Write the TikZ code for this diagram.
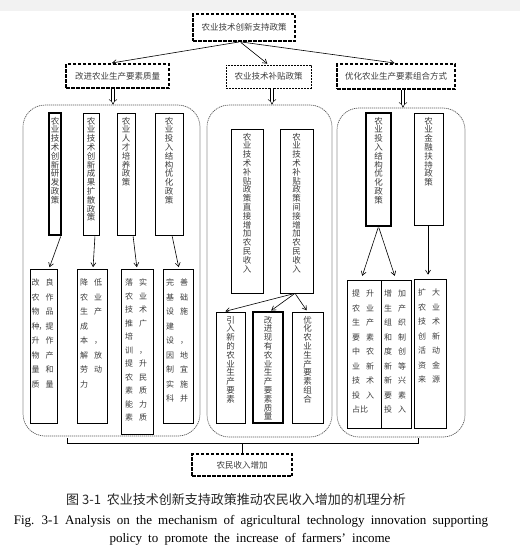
\documentclass[tikz,border=0pt]{standalone}
\usepackage{fontspec}
\setmainfont{Liberation Serif}
\newfontfamily\cjk{Noto Sans CJK SC}
\XeTeXlinebreaklocale "zh"
\XeTeXlinebreakskip=0pt plus 1pt
\usetikzlibrary{arrows.meta,positioning}
\definecolor{InkGray}{RGB}{60,60,60}
\definecolor{EdgeGray}{RGB}{90,90,90}
\newcommand\colstack[2]{\parbox[c][#1][t]{9pt}{\centering#2}}
\newcommand\rowstack[2]{\parbox[c][#1][t]{24pt}{\raggedright#2}}
\tikzset{
  policy/.style={draw,line width=1.6pt,dash pattern=on 3.5pt off 1.5pt,
    inner sep=0pt,text=InkGray,font=\cjk\fontsize{8.5}{10}\selectfont},
  subpolicy/.style={policy,line width=0.8pt,dash pattern=on 2pt off 1pt},
  group/.style={draw=EdgeGray,line width=0.7pt,dash pattern=on 1.2pt off 0.8pt,
    rounded corners=22pt,inner sep=0pt},
  colbox/.style={draw,line width=0.7pt,inner xsep=0pt,inner ysep=4pt,
    text=InkGray,font=\cjk\fontsize{8.5}{8.8}\selectfont},
  rowbox/.style={draw,line width=0.7pt,inner xsep=0pt,inner ysep=10pt,
    text=InkGray,font={\cjk\fontsize{8}{14.5}\selectfont\spaceskip=6pt\relax}},
  link/.style={-{Straight Barb[length=4pt,width=5pt]},line width=0.6pt,
    shorten >=1.5pt,shorten <=1pt},
  feed/.style={double,double distance=2.4pt,line width=0.5pt,-{Implies}},
  entitle/.style={font={\fontsize{13}{15}\selectfont\spaceskip=6.2pt\relax}}
}

\begin{document}
\begin{tikzpicture}[x=1pt,y=-1pt,>=Latex]
  \fill[black!5] (0,0) rectangle (520,11);
  \useasboundingbox (0,0) rectangle (520,554);

  % top levels
  \node[policy,minimum width=102pt,minimum height=27pt] (support) at (244,27.5) {农业技术创新支持政策};
  \node[policy,minimum width=103pt,minimum height=24pt] (quality) at (117.5,76) {改进农业生产要素质量};
  \node[subpolicy,minimum width=85pt,minimum height=23pt] (subsidy) at (268.5,76.5) {农业技术补贴政策};
  \node[policy,minimum width=118pt,minimum height=25pt] (combine) at (396,76.5) {优化农业生产要素组合方式};
  \draw[link] ([xshift=-4pt]support.south) -- ([xshift=-7pt]quality.north);
  \draw[link] ([xshift=-4pt]support.south) -- (subsidy.north);
  \draw[link] ([xshift=-4pt]support.south) -- (combine.north);

  % groups
  \node[group,minimum width=177pt,minimum height=331pt] (leftgrp) at (111.5,270.5) {};
  \node[group,minimum width=125pt,minimum height=332pt] (midgrp) at (269.5,271) {};
  \node[group,minimum width=128pt,minimum height=329pt] (rightgrp) at (401,272.5) {};
  \draw[feed] ([xshift=-4.5pt]quality.south) -- ([xshift=-4.5pt]quality.south |- leftgrp.north);
  \draw[feed] ([xshift=3.5pt]subsidy.south) -- ([xshift=3.5pt]subsidy.south |- midgrp.north);
  \draw[feed] ([xshift=7pt]combine.south) -- ([xshift=7pt]combine.south |- rightgrp.north);

  % left group
  \node[colbox,line width=1.2pt,minimum width=12pt] (rd) at (55,174) {\colstack{114pt}{农业技术创新研发政策}};
  \node[colbox,minimum width=16pt] (spread) at (91,174) {\colstack{114pt}{农业技术创新成果扩散政策}};
  \node[colbox,minimum width=18pt] (talent) at (126,174) {\colstack{114pt}{农业人才培养政策}};
  \node[colbox,minimum width=28pt] (input) at (169,174) {\colstack{114pt}{农业投入结构优化政策}};
  \node[rowbox,minimum width=27pt] (breed) at (43.5,346) {\rowstack{134pt}{改 良\\农 作\\物 品\\种\hspace{-1pt}，\hspace{-1pt}提\\升 作\\物 产\\量 和\\质 量}};
  \node[rowbox,minimum width=30pt] (cost) at (92,346) {\rowstack{134pt}{降 低\\农 业\\生 产\\成\\本 ，\\解 放\\劳 动\\力}};
  \node[rowbox,minimum width=32pt,font={\cjk\fontsize{8}{13.5}\selectfont\spaceskip=6pt\relax}] (train) at (137,351.5) {\rowstack{145pt}{落 实\\农 业\\技 术\\推 广\\培\\训 ，\\提 升\\农 民\\素 质\\能 力\\素 质}};
  \node[rowbox,minimum width=30pt] (infra) at (178,346) {\rowstack{134pt}{完 善\\基 础\\设 施\\建\\设 ，\\因 地\\制 宜\\实 施\\科 并}};
  \draw[link] ([xshift=6pt]rd.south) -- ([xshift=5.5pt]breed.north);
  \draw[link] ([xshift=4pt]spread.south) -- ([xshift=1pt]cost.north);
  \draw[link] ([xshift=7pt]talent.south) -- (train.north);
  \draw[link] ([xshift=3pt]input.south) -- ([xshift=1pt]infra.north);

  % middle group
  \node[colbox,minimum width=32pt] (direct) at (247,211) {\colstack{156pt}{农业技术补贴政策直接增加农民收入}};
  \node[colbox,minimum width=33pt] (indirect) at (296.5,211) {\colstack{156pt}{农业技术补贴政策间接增加农民收入}};
  \node[colbox,minimum width=29pt] (newfac) at (230.5,367.5) {\colstack{103pt}{引入新的农业生产要素}};
  \node[colbox,line width=1.2pt,minimum width=30pt] (improve) at (268,367.5) {\colstack{103pt}{改进现有农业生产要素质量}};
  \node[colbox,minimum width=31pt] (optimize) at (307.5,367.5) {\colstack{103pt}{优化农业生产要素组合}};
  \draw[link] ([xshift=-1.5pt]indirect.south) -- ([xshift=-6.5pt]newfac.north);
  \draw[link] ([xshift=-1.5pt]indirect.south) -- ([xshift=2pt]improve.north);
  \draw[link] ([xshift=-1.5pt]indirect.south) -- (optimize.north);

  % right group
  \node[colbox,line width=1.2pt,minimum width=25pt] (structure) at (378.5,169.5) {\colstack{105pt}{农业投入结构优化政策}};
  \node[colbox,minimum width=29pt] (finance) at (428.5,169) {\colstack{104pt}{农业金融扶持政策}};
  \node[rowbox,minimum width=34pt] (share) at (364,354) {\rowstack{128pt}{提 升\\农 业\\生 产\\要 素\\中 农\\业 新\\技 术\\投 入\\占比}};
  \node[rowbox,minimum width=30pt] (neworg) at (396,354) {\rowstack{128pt}{增 加\\生 产\\组 织\\和 制\\度 创\\新 等\\新 兴\\要 素\\投 入}};
  \node[rowbox,minimum width=32pt] (funds) at (430,353.5) {\rowstack{129pt}{扩 大\\农 业\\技 术\\创 新\\活 动\\资 金\\来 源}};
  \draw[link,shorten >=4pt] (structure.south) -- ([xshift=-3pt]share.north);
  \draw[link,shorten >=4pt] (structure.south) -- (neworg.north);
  \draw[link,shorten >=4pt] ([xshift=-0.5pt]finance.south) -- ([xshift=-0.5pt]finance.south |- funds.north);

  % bottom
  \node[policy,minimum width=100pt,minimum height=22pt] (income) at (242,465) {农民收入增加};
  \coordinate (braceL) at (67,438);
  \coordinate (braceR) at (418,438);
  \draw[line width=0.8pt] (braceL) -- ++(0,5) -| (braceR);
  \draw[line width=0.8pt] (income.north) -- (income.north |- 0,443);

  % captions
  \node[font=\cjk\fontsize{13}{15}\selectfont,text=black!85] (capcn) at (236,500) {图 3-1\ \ 农业技术创新支持政策推动农民收入增加的机理分析};
  \node[entitle] (capen1) at (251,521) {Fig. 3-1 Analysis on the mechanism of agricultural technology innovation supporting};
  \node[entitle] (capen2) at (250,539) {policy to promote the increase of farmers' income};
\end{tikzpicture}
\end{document}
